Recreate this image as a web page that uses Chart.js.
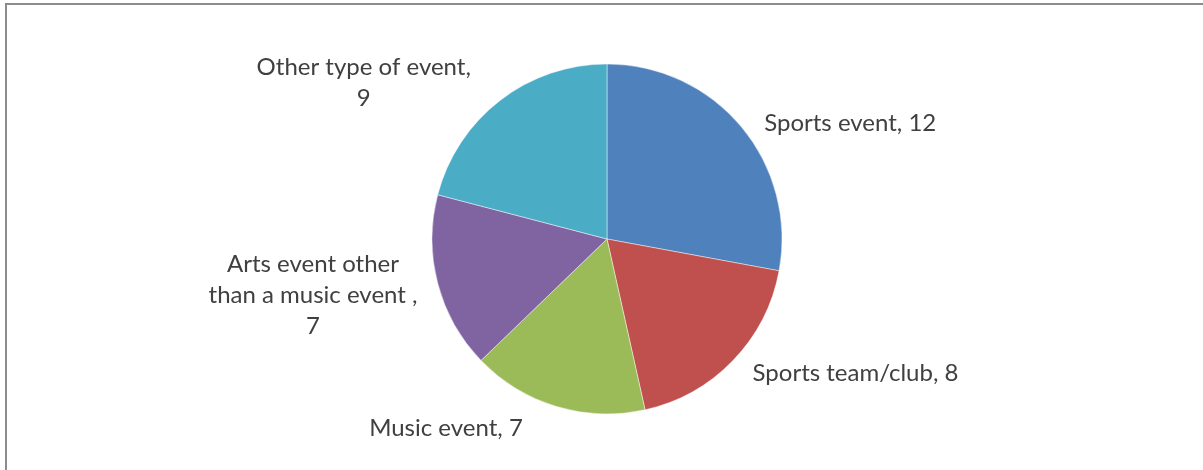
<!DOCTYPE html>
<html>
<head>
<meta charset="utf-8">
<script src="https://cdn.jsdelivr.net/npm/chart.js@4"></script>
<style>
  html, body { margin: 0; padding: 0; background: #fff; }
  .frame {
    position: absolute; left: 5px; top: 3px; width: 1198px; height: 467px;
    border-left: 2px solid #8c8c8c; border-top: 2px solid #8c8c8c;
    box-sizing: border-box;
  }
  #wrap { position: absolute; left: 0; top: 0; width: 1203px; height: 470px; }
</style>
</head>
<body>
<div class="frame"></div>
<div id="wrap"><canvas id="myChart" width="1203" height="470"></canvas></div>
<script>
// data
const categories = ['Sports event', 'Sports team/club', 'Music event', 'Arts event other than a music event', 'Other type of event'];
const counts = [12, 8, 7, 7, 9];
const sliceColors = ['#4f81bd', '#c0504d', '#9bbb59', '#8064a2', '#4bacc6'];
// label text as wrapped in the picture
const labelLines = [
  ['Sports event, 12'],
  ['Sports team/club, 8'],
  ['Music event, 7'],
  ['Arts event other', 'than a music event ,', '7'],
  ['Other type of event,', '9']
];
// label centre, in pie radii from the centre
const labelPos = [[1.39, -0.66], [1.42, 0.77], [-0.92, 1.08], [-1.68, 0.32], [-1.39, -0.89]];

const pieLabels = {
  id: 'pieLabels',
  afterDraw(chart) {
    const c = chart.ctx;
    const arc = chart.getDatasetMeta(0).data[0];
    const r = arc.outerRadius;
    c.save();
    c.font = '24px Lato, "Open Sans", sans-serif';
    c.fillStyle = '#404040';
    c.textAlign = 'center';
    c.textBaseline = 'middle';
    const lh = 31;
    labelLines.forEach((lines, i) => {
      const cx = arc.x + labelPos[i][0] * r;
      const cy = arc.y + labelPos[i][1] * r;
      const top = cy - (lines.length - 1) * lh / 2;
      lines.forEach((t, j) => c.fillText(t, cx, top + j * lh));
    });
    c.restore();
  }
};

const ctx = document.getElementById('myChart');
new Chart(ctx, {
  type: 'pie',
  data: {
    labels: categories,
    datasets: [{
      data: counts,
      backgroundColor: sliceColors,
      borderColor: 'rgba(255,255,255,0.45)',
      borderWidth: 1,
      hoverOffset: 0
    }]
  },
  options: {
    responsive: false,
    animation: false,
    radius: 175,
    layout: { padding: { left: 432, right: 421, top: 64, bottom: 56 } },
    plugins: {
      legend: { display: false },
      tooltip: { enabled: false }
    }
  },
  plugins: [pieLabels]
});
</script>
</body>
</html>
